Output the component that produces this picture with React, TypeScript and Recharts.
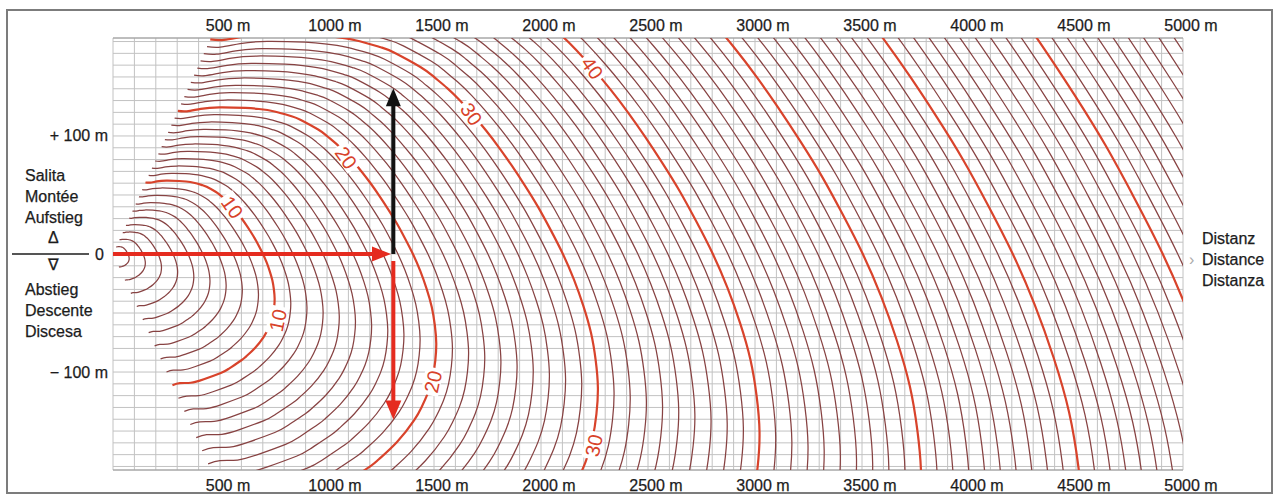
import React from 'react';
import { ComposedChart, Line, Scatter, XAxis, YAxis, CartesianGrid, ReferenceLine } from 'recharts';

// walking pace: minutes per km of map distance, by gradient in %
const slopePct = [
  -40, -35, -30, -25, -20, -18, -15, -14, -12, -10, -9, -8, -7, -6, -5, -4, -3, -2, -1, 0,
  1, 2, 3, 4, 5, 6, 7, 8, 9, 10, 11, 13, 14, 16, 18, 20, 25, 30, 35, 40,
];
const paceMinPerKm = [
  36.0, 32.0, 27.5, 23.56, 19.84, 18.5, 16.66, 16.1, 15.07, 14.21, 13.87, 13.59, 13.39, 13.28, 13.24, 13.3, 13.43, 13.65, 13.93, 14.27,
  14.67, 15.1, 15.58, 16.09, 16.63, 17.21, 17.83, 18.49, 19.21, 20.0, 20.86, 22.85, 23.98, 26.5, 29.31, 32.33, 40.24, 48.8, 57.9, 66.0,
];

// one curve per minute of walking time
const contourMinutes = [
  1, 2, 3, 4, 5, 6, 7, 8, 9, 10, 11, 12, 13, 14, 15, 16, 17, 18, 19, 20,
  21, 22, 23, 24, 25, 26, 27, 28, 29, 30, 31, 32, 33, 34, 35, 36, 37, 38, 39, 40,
  41, 42, 43, 44, 45, 46, 47, 48, 49, 50, 51, 52, 53, 54, 55, 56, 57, 58, 59, 60,
  61, 62, 63, 64, 65, 66, 67, 68, 69, 70, 71, 72, 73, 74, 75, 76, 77, 78, 79, 80,
];
const boldMinutes = [10, 20, 30, 40, 50, 60, 70];

// where the minute numbers sit (distance m, height m)
const climbLabels = [
  { t: 10, d: 561, h: 40 },
  { t: 20, d: 1093, h: 82 },
  { t: 30, d: 1678, h: 119 },
  { t: 40, d: 2243, h: 158 },
];
const descentLabels = [
  { t: 10, d: 766, h: -56 },
  { t: 20, d: 1491, h: -108 },
  { t: 30, d: 2243, h: -162 },
];

// worked example: 1300 m, then 140 m up or down
const exampleRun = [{ d: 0, h: 0 }, { d: 1215, h: 0 }];
const exampleUp = [{ d: 1310, h: 0 }, { d: 1310, h: 126 }];
const exampleDown = [{ d: 1310, h: -6 }, { d: 1310, h: -125 }];

const distanceLabels = [500, 1000, 1500, 2000, 2500, 3000, 3500, 4000, 4500, 5000];
const gridDistances = Array.from({ length: 51 }, (_, i) => i * 100);
const heightTicks = Array.from({ length: 37 }, (_, i) => -180 + i * 10);
const heightLabelValues = [100, 0, -100];
const heightLabelTexts = ['+ 100 m', '0', '\u2212 100 m'];
const climbWords = ['Salita', 'Montée', 'Aufstieg'];
const descentWords = ['Abstieg', 'Descente', 'Discesa'];
const distanceWords = ['Distanz', 'Distance', 'Distanza'];

const X_DOMAIN: [number, number] = [0, 5000];
const Y_DOMAIN: [number, number] = [-183, 183];

const RED = '#d8432b';
const THIN = '#874242';
const INK = '#1c1c1c';
const FONT = '"Liberation Sans", Arial, sans-serif';

const contours = contourMinutes.map((t) => ({
  t,
  points: slopePct.map((s, i) => {
    const d = (1000 * t) / paceMinPerKm[i];
    return { d, h: (d * s) / 100 };
  }),
}));

const distanceTick = (top: boolean) => (props: any) => {
  const { x, y, payload } = props;
  if (!distanceLabels.includes(payload.value)) return <g />;
  return (
    <text x={x + 8} y={top ? y - 5 : y + 7} textAnchor='middle' dominantBaseline='central'
      fontSize={16} fontFamily={FONT} fill={INK} stroke={INK} strokeWidth={0.25}>
      {payload.value} m
    </text>
  );
};

const heightTick = (props: any) => {
  const { x, y, payload } = props;
  const i = heightLabelValues.indexOf(payload.value);
  if (i < 0) return <g />;
  const zero = payload.value === 0;
  return (
    <g>
      {zero && <line x1={12} x2={89} y1={y} y2={y} stroke={INK} strokeWidth={1.6} />}
      <text x={zero ? x - 1 : x + 3} y={y} textAnchor='end' dominantBaseline='central' fontSize={16}
        fontFamily={FONT} fill={INK} stroke={INK} strokeWidth={0.25}>
        {heightLabelTexts[i]}
      </text>
    </g>
  );
};

const minuteLabel = (angle: number) => (props: any) => {
  const { cx, cy, payload } = props;
  return (
    <g transform={`translate(${cx},${cy}) rotate(${angle})`}>
      <rect x={-14} y={-9} width={28} height={18} fill='#fff' />
      <text x={0} y={1} textAnchor='middle' dominantBaseline='central' fontSize={20} fontFamily={FONT} fill={RED}>
        {payload.t}
      </text>
    </g>
  );
};

const arrowHead = (dir: 'right' | 'up' | 'down', color: string) => (props: any) => {
  const { cx, cy, index, key } = props;
  if (index !== 1) return <g key={key} />;
  let pts = '';
  if (dir === 'right') pts = `${cx + 18},${cy} ${cx - 1},${cy - 7.5} ${cx - 1},${cy + 7.5}`;
  if (dir === 'up') pts = `${cx},${cy - 17} ${cx - 7.5},${cy + 1} ${cx + 7.5},${cy + 1}`;
  if (dir === 'down') pts = `${cx},${cy + 18} ${cx - 8},${cy - 1} ${cx + 8},${cy - 1}`;
  return <polygon key={key} points={pts} fill={color} />;
};

const textStyle: React.CSSProperties = {
  position: 'absolute', fontFamily: FONT, fontSize: 16, lineHeight: '21px', color: INK,
  whiteSpace: 'nowrap', WebkitTextStroke: '0.25px #1c1c1c',
};

export default function App() {
  return (
    <div style={{ position: 'absolute', left: 0, top: 0, width: 1278, height: 496, background: '#fff', overflow: 'hidden' }}>
      <div style={{ position: 'absolute', left: 6, top: 9, width: 1267, height: 485, border: '2px solid #7c7c7c', boxSizing: 'border-box' }} />
      <div style={{ position: 'absolute', left: 0, top: 0 }}>
        <ComposedChart width={1278} height={496} margin={{ top: 0, right: 95, bottom: 0, left: 0 }}>
          <CartesianGrid stroke='#c2c2c2' strokeWidth={1} />
          <XAxis xAxisId='top' orientation='top' type='number' dataKey='d' domain={X_DOMAIN} ticks={distanceLabels}
            height={38} axisLine={false} tickLine={false} tick={distanceTick(true)} allowDataOverflow />
          <XAxis type='number' dataKey='d' domain={X_DOMAIN} ticks={gridDistances} interval={0}
            height={26} axisLine={false} tickLine={false} tick={distanceTick(false)} allowDataOverflow />
          <YAxis type='number' dataKey='h' domain={Y_DOMAIN} ticks={heightTicks} interval={0}
            width={113} axisLine={false} tickLine={false} tick={heightTick} allowDataOverflow />
          <ReferenceLine y={Y_DOMAIN[0]} stroke='#9a9a9a' />
          <ReferenceLine y={Y_DOMAIN[1]} stroke='#9a9a9a' />
          {contours.map((c) => {
            const bold = boldMinutes.includes(c.t);
            return (
              <Line key={c.t} data={c.points} dataKey='h' type='natural'
                stroke={bold ? RED : THIN} strokeWidth={bold ? 2.2 : 1.25}
                dot={false} activeDot={false} isAnimationActive={false} />
            );
          })}
          <Scatter data={climbLabels} shape={minuteLabel(55)} isAnimationActive={false} />
          <Scatter data={descentLabels} shape={minuteLabel(-78)} isAnimationActive={false} />
          <Line data={exampleRun} dataKey='h' type='linear' stroke='#e52b1f' strokeWidth={4}
            dot={arrowHead('right', '#e52b1f')} activeDot={false} isAnimationActive={false} />
          <Line data={exampleUp} dataKey='h' type='linear' stroke='#111' strokeWidth={4}
            dot={arrowHead('up', '#111')} activeDot={false} isAnimationActive={false} />
          <Line data={exampleDown} dataKey='h' type='linear' stroke='#e52b1f' strokeWidth={4}
            dot={arrowHead('down', '#e52b1f')} activeDot={false} isAnimationActive={false} />
        </ComposedChart>
      </div>
      <div style={{ ...textStyle, left: 25, top: 165 }}>
        {climbWords.map((w) => <div key={w}>{w}</div>)}
      </div>
      <div style={{ ...textStyle, left: 48, top: 227 }}>Δ</div>
      <div style={{ ...textStyle, left: 48, top: 254 }}>∇</div>
      <div style={{ ...textStyle, left: 25, top: 279 }}>
        {descentWords.map((w) => <div key={w}>{w}</div>)}
      </div>
      <div style={{ ...textStyle, left: 1202, top: 228 }}>
        {distanceWords.map((w) => <div key={w}>{w}</div>)}
      </div>
      <div style={{ ...textStyle, left: 1189, top: 249, color: '#aaa', WebkitTextStroke: '0px' }}>›</div>
    </div>
  );
}
